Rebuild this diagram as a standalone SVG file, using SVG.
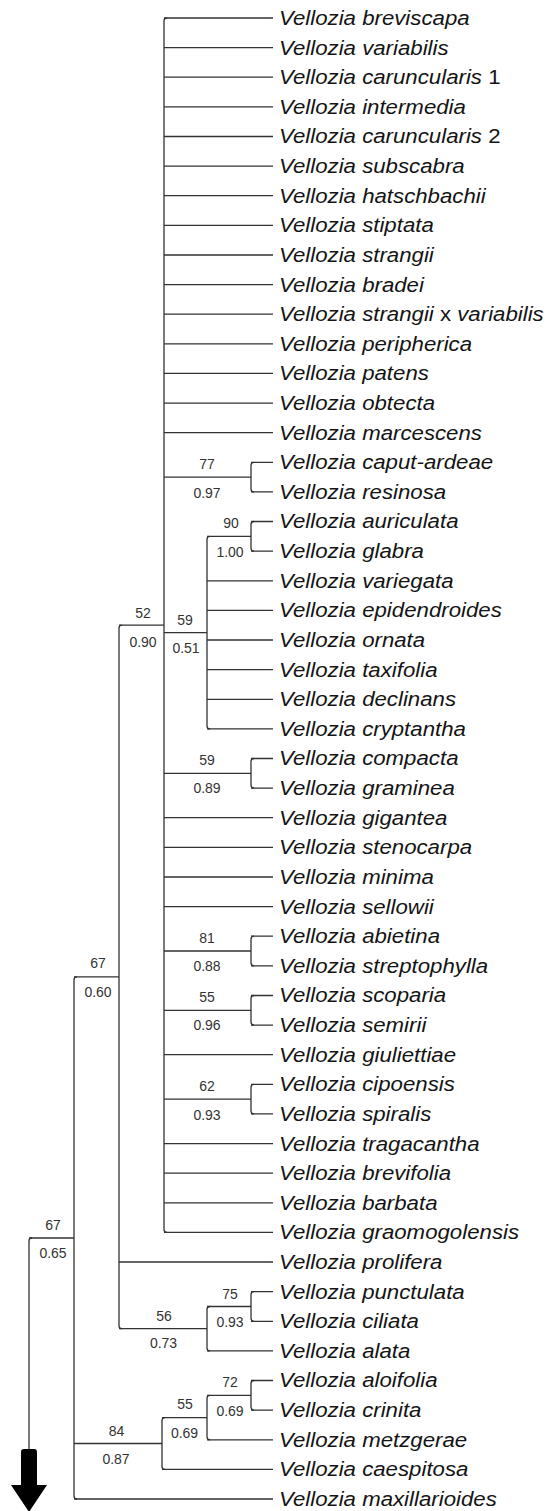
<svg xmlns="http://www.w3.org/2000/svg" width="547" height="1511" viewBox="0 0 547 1511">
<style>
.leaf{font-family:"Liberation Sans",Arial,sans-serif;font-size:20.5px;font-style:italic;fill:#141414}
.up{font-style:normal}
.sup{font-family:"Liberation Sans",Arial,sans-serif;font-size:14px;fill:#333;text-anchor:middle}
.ln{fill:none;stroke:#333;stroke-width:1.3}
</style>
<rect width="547" height="1511" fill="#fff"/>
<g id="connectors" class="ln">
<path d="M164,18H273M164,47.6H273M164,77.2H273M164,106.9H273M164,136.5H273M164,166.1H273M164,195.7H273M164,225.3H273M164,255H273M164,284.6H273M164,314.2H273M164,343.8H273M164,373.4H273M164,403.1H273M164,432.7H273M164,817.7H273M164,847.4H273M164,877H273M164,906.6H273M164,1054.7H273M164,1143.6H273M164,1173.2H273M164,1202.8H273M164,1232.4H273"/>
<path d="M251,462.3H273M251,491.9H273M251,521.5H273M251,551.2H273M251,758.5H273M251,788.1H273M251,936.2H273M251,965.8H273M251,995.5H273M251,1025.1H273M251,1084.3H273M251,1113.9H273M251,1291.7H273M251,1321.3H273M251,1380.5H273M251,1410.1H273"/>
<path d="M207,580.8H273M207,610.4H273M207,640H273M207,669.6H273M207,699.3H273M207,728.9H273M207,1350.9H273M207,1439.8H273M119,1262H273M162,1469.4H273M74,1499H273"/>
<path d="M164,477.1H251M164,773.3H251M164,951H251M164,1010.3H251M164,1099.1H251M164,632.6H207M207,536.35H251M119,625.2H164M119,1328.7H207M207,1306.5H251M74,976.95H119M74,1443.5H162M162,1417.55H207M207,1395.3H251M29,1238H74"/>
<path d="M167,18Q164,18 164,21V1229.4Q164,1232.4 167,1232.4"/>
<path d="M254,462.3Q251,462.3 251,465.3V488.9Q251,491.9 254,491.9"/>
<path d="M254,521.5Q251,521.5 251,524.5V548.2Q251,551.2 254,551.2"/>
<path d="M210,536.35Q207,536.35 207,539.35V725.9Q207,728.9 210,728.9"/>
<path d="M254,758.5Q251,758.5 251,761.5V785.1Q251,788.1 254,788.1"/>
<path d="M254,936.2Q251,936.2 251,939.2V962.8Q251,965.8 254,965.8"/>
<path d="M254,995.5Q251,995.5 251,998.5V1022.1Q251,1025.1 254,1025.1"/>
<path d="M254,1084.3Q251,1084.3 251,1087.3V1110.9Q251,1113.9 254,1113.9"/>
<path d="M122,625.2Q119,625.2 119,628.2V1325.7Q119,1328.7 122,1328.7"/>
<path d="M254,1291.7Q251,1291.7 251,1294.7V1318.3Q251,1321.3 254,1321.3"/>
<path d="M210,1306.5Q207,1306.5 207,1309.5V1347.9Q207,1350.9 210,1350.9"/>
<path d="M77,976.95Q74,976.95 74,979.95V1496Q74,1499 77,1499"/>
<path d="M254,1380.5Q251,1380.5 251,1383.5V1407.1Q251,1410.1 254,1410.1"/>
<path d="M210,1395.3Q207,1395.3 207,1398.3V1436.8Q207,1439.8 210,1439.8"/>
<path d="M165,1417.55Q162,1417.55 162,1420.55V1466.4Q162,1469.4 165,1469.4"/>
<path d="M32,1238Q29,1238 29,1241V1452"/>
</g>
<g id="arrow">
<path d="M21,1452Q21,1449 24,1449H34Q37,1449 37,1452V1485H47L29,1512L11,1485H21Z" fill="#000"/>
</g>
<g id="leaves" transform="scale(1.085,1)">
<g id="t0"><text class="leaf" x="257.1" y="25">Vellozia breviscapa</text></g>
<g id="t1"><text class="leaf" x="257.1" y="54.6">Vellozia variabilis</text></g>
<g id="t2"><text class="leaf" x="257.1" y="84.2">Vellozia caruncularis <tspan class="up">1</tspan></text></g>
<g id="t3"><text class="leaf" x="257.1" y="113.9">Vellozia intermedia</text></g>
<g id="t4"><text class="leaf" x="257.1" y="143.5">Vellozia caruncularis <tspan class="up">2</tspan></text></g>
<g id="t5"><text class="leaf" x="257.1" y="173.1">Vellozia subscabra</text></g>
<g id="t6"><text class="leaf" x="257.1" y="202.7">Vellozia hatschbachii</text></g>
<g id="t7"><text class="leaf" x="257.1" y="232.3">Vellozia stiptata</text></g>
<g id="t8"><text class="leaf" x="257.1" y="262">Vellozia strangii</text></g>
<g id="t9"><text class="leaf" x="257.1" y="291.6">Vellozia bradei</text></g>
<g id="t10"><text class="leaf" x="257.1" y="321.2">Vellozia strangii <tspan class="up">x</tspan> variabilis</text></g>
<g id="t11"><text class="leaf" x="257.1" y="350.8">Vellozia peripherica</text></g>
<g id="t12"><text class="leaf" x="257.1" y="380.4">Vellozia patens</text></g>
<g id="t13"><text class="leaf" x="257.1" y="410.1">Vellozia obtecta</text></g>
<g id="t14"><text class="leaf" x="257.1" y="439.7">Vellozia marcescens</text></g>
<g id="t15"><text class="leaf" x="257.1" y="469.3">Vellozia caput-ardeae</text></g>
<g id="t16"><text class="leaf" x="257.1" y="498.9">Vellozia resinosa</text></g>
<g id="t17"><text class="leaf" x="257.1" y="528.5">Vellozia auriculata</text></g>
<g id="t18"><text class="leaf" x="257.1" y="558.2">Vellozia glabra</text></g>
<g id="t19"><text class="leaf" x="257.1" y="587.8">Vellozia variegata</text></g>
<g id="t20"><text class="leaf" x="257.1" y="617.4">Vellozia epidendroides</text></g>
<g id="t21"><text class="leaf" x="257.1" y="647">Vellozia ornata</text></g>
<g id="t22"><text class="leaf" x="257.1" y="676.6">Vellozia taxifolia</text></g>
<g id="t23"><text class="leaf" x="257.1" y="706.3">Vellozia declinans</text></g>
<g id="t24"><text class="leaf" x="257.1" y="735.9">Vellozia cryptantha</text></g>
<g id="t25"><text class="leaf" x="257.1" y="765.5">Vellozia compacta</text></g>
<g id="t26"><text class="leaf" x="257.1" y="795.1">Vellozia graminea</text></g>
<g id="t27"><text class="leaf" x="257.1" y="824.7">Vellozia gigantea</text></g>
<g id="t28"><text class="leaf" x="257.1" y="854.4">Vellozia stenocarpa</text></g>
<g id="t29"><text class="leaf" x="257.1" y="884">Vellozia minima</text></g>
<g id="t30"><text class="leaf" x="257.1" y="913.6">Vellozia sellowii</text></g>
<g id="t31"><text class="leaf" x="257.1" y="943.2">Vellozia abietina</text></g>
<g id="t32"><text class="leaf" x="257.1" y="972.8">Vellozia streptophylla</text></g>
<g id="t33"><text class="leaf" x="257.1" y="1002.5">Vellozia scoparia</text></g>
<g id="t34"><text class="leaf" x="257.1" y="1032.1">Vellozia semirii</text></g>
<g id="t35"><text class="leaf" x="257.1" y="1061.7">Vellozia giuliettiae</text></g>
<g id="t36"><text class="leaf" x="257.1" y="1091.3">Vellozia cipoensis</text></g>
<g id="t37"><text class="leaf" x="257.1" y="1120.9">Vellozia spiralis</text></g>
<g id="t38"><text class="leaf" x="257.1" y="1150.6">Vellozia tragacantha</text></g>
<g id="t39"><text class="leaf" x="257.1" y="1180.2">Vellozia brevifolia</text></g>
<g id="t40"><text class="leaf" x="257.1" y="1209.8">Vellozia barbata</text></g>
<g id="t41"><text class="leaf" x="257.1" y="1239.4">Vellozia graomogolensis</text></g>
<g id="t42"><text class="leaf" x="257.1" y="1269">Vellozia prolifera</text></g>
<g id="t43"><text class="leaf" x="257.1" y="1298.7">Vellozia punctulata</text></g>
<g id="t44"><text class="leaf" x="257.1" y="1328.3">Vellozia ciliata</text></g>
<g id="t45"><text class="leaf" x="257.1" y="1357.9">Vellozia alata</text></g>
<g id="t46"><text class="leaf" x="257.1" y="1387.5">Vellozia aloifolia</text></g>
<g id="t47"><text class="leaf" x="257.1" y="1417.1">Vellozia crinita</text></g>
<g id="t48"><text class="leaf" x="257.1" y="1446.8">Vellozia metzgerae</text></g>
<g id="t49"><text class="leaf" x="257.1" y="1476.4">Vellozia caespitosa</text></g>
<g id="t50"><text class="leaf" x="257.1" y="1506">Vellozia maxillarioides</text></g>
</g>
<g id="supports">
<g id="n77"><text class="sup" x="207" y="469">77</text><text class="sup" x="207" y="498">0.97</text></g>
<g id="n90"><text class="sup" x="231" y="528">90</text><text class="sup" x="230" y="556.5">1.00</text></g>
<g id="n52"><text class="sup" x="143" y="617.5">52</text><text class="sup" x="143" y="646.5">0.90</text></g>
<g id="n59a"><text class="sup" x="185" y="625">59</text><text class="sup" x="186" y="653">0.51</text></g>
<g id="n59b"><text class="sup" x="207" y="765">59</text><text class="sup" x="207" y="793">0.89</text></g>
<g id="n81"><text class="sup" x="207" y="943">81</text><text class="sup" x="207" y="971">0.88</text></g>
<g id="n55a"><text class="sup" x="207" y="1001.5">55</text><text class="sup" x="207" y="1030">0.96</text></g>
<g id="n62"><text class="sup" x="207" y="1091">62</text><text class="sup" x="207" y="1119.5">0.93</text></g>
<g id="n67a"><text class="sup" x="98" y="968">67</text><text class="sup" x="98" y="997">0.60</text></g>
<g id="n67b"><text class="sup" x="53" y="1230">67</text><text class="sup" x="53" y="1258">0.65</text></g>
<g id="n75"><text class="sup" x="230" y="1299">75</text><text class="sup" x="230" y="1326.5">0.93</text></g>
<g id="n56"><text class="sup" x="164" y="1320.5">56</text><text class="sup" x="163.5" y="1348">0.73</text></g>
<g id="n72"><text class="sup" x="230" y="1387">72</text><text class="sup" x="230" y="1415.5">0.69</text></g>
<g id="n55b"><text class="sup" x="185" y="1409">55</text><text class="sup" x="184.5" y="1438">0.69</text></g>
<g id="n84"><text class="sup" x="116.5" y="1436">84</text><text class="sup" x="116" y="1464">0.87</text></g>
</g>
</svg>
